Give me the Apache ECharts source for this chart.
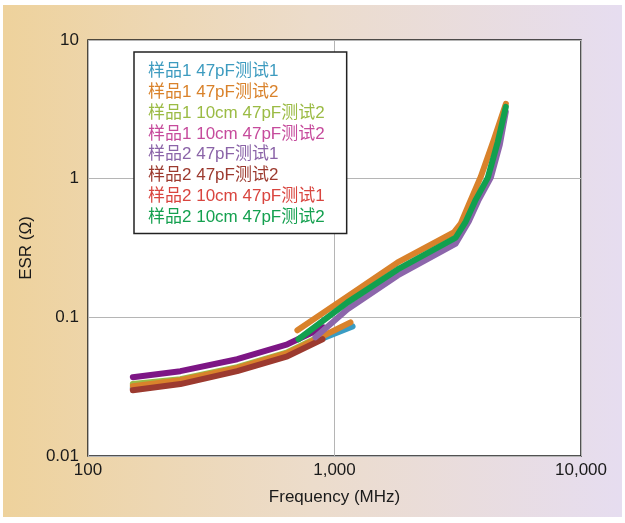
<!DOCTYPE html>
<html>
<head>
<meta charset="utf-8">
<script src="https://cdn.jsdelivr.net/npm/echarts@6/dist/echarts.min.js"></script>
<style>
html,body{margin:0;padding:0;background:#fff;}
#chart{width:625px;height:523px;}
</style>
</head>
<body>
<div id="chart"></div>
<script>
// ---- data (frequency in MHz, ESR in ohm) ----
const seriesNames = ['样品1 47pF测试1','样品1 47pF测试2','样品1 10cm 47pF测试2','样品1 10cm 47pF测试2 ','样品2 47pF测试1','样品2 47pF测试2','样品2 10cm 47pF测试1','样品2 10cm 47pF测试2'];
const legendLabels = ['样品1 47pF测试1','样品1 47pF测试2','样品1 10cm 47pF测试2','样品1 10cm 47pF测试2','样品2 47pF测试1','样品2 47pF测试2','样品2 10cm 47pF测试1','样品2 10cm 47pF测试2'];

const s1Freq = [152, 237, 403, 644, 877, 1184];
const s1Esr  = [0.0309, 0.0341, 0.0416, 0.0533, 0.0695, 0.0861];

const s2LowFreq = [152, 237, 403, 644, 877, 1161];
const s2LowEsr  = [0.0319, 0.0352, 0.0430, 0.0551, 0.0718, 0.0920];
const s2HighFreq = [707, 1129, 1804, 3045, 3252, 3505, 3922, 4430, 4956];
const s2HighEsr  = [0.0806, 0.1416, 0.2487, 0.409, 0.4746, 0.650, 1.034, 1.908, 3.464];

const s3Freq = [152, 237, 403, 644, 877];
const s3Esr  = [0.0330, 0.0358, 0.0437, 0.0560, 0.0730];

const s4Freq = [152, 237, 403, 644, 902];
const s4Esr  = [0.0370, 0.0409, 0.0499, 0.0639, 0.0848];

const s5Freq = [837, 1129, 1804, 3104, 3505, 3850, 4306, 4684, 4956];
const s5Esr  = [0.0718, 0.1142, 0.2006, 0.3407, 0.4905, 0.7063, 1.017, 1.757, 3.034];

const s6Freq = [152, 237, 403, 644, 894];
const s6Esr  = [0.0298, 0.0330, 0.0409, 0.0524, 0.0695];

const s7Freq = [152, 237, 403, 644, 877];
const s7Esr  = [0.0303, 0.0335, 0.0416, 0.0533, 0.0695];

const s8Freq = [714, 1129, 1804, 3104, 3408, 3743, 4188, 4598, 4956];
const s8Esr  = [0.0695, 0.1282, 0.2214, 0.3763, 0.4905, 0.7063, 1.017, 1.846, 3.296];

const xTicks = [100, 1000, 10000];
const yTicks = [0.01, 0.1, 1, 10];

const lineColors = ['#3a9cc3','#d9822b','#9abb45','#7d1685','#8c66ab','#9c3a2f','#d24a3e','#12a04f'];
const legendColors = ['#3d9bbf','#d9822b','#9bbb44','#c64b9c','#8b64a8','#9c3a2f','#d9453f','#14a04f'];

function pairs(f, e){ return f.map((v,i)=>[v, e[i]]); }

function mkSeries(idx, f, e, z){
  return {
    name: seriesNames[idx], type:'line', data: pairs(f,e),
    showSymbol:false, smooth:false, z: z,
    lineStyle:{ width:6, color: lineColors[idx], cap:'round', join:'round' },
    itemStyle:{ color: legendColors[idx] },
    emphasis:{ disabled:true }, animation:false
  };
}

const chart = echarts.init(document.getElementById('chart'), null, {renderer:'canvas'});
const FONT = '"Liberation Sans", Arial, "Noto Sans CJK SC", sans-serif';

const option = {
  backgroundColor:'#ffffff',
  animation:false,
  graphic:[{
    type:'rect', z:-100, silent:true,
    shape:{x:3, y:5, width:619, height:512},
    style:{ fill: new echarts.graphic.LinearGradient(0,0,1,0,[
      {offset:0, color:'#eed29c'},
      {offset:0.5, color:'#ecdccb'},
      {offset:1, color:'#e6ddf0'}
    ])}
  }],
  grid:{ left:88, top:40, right:44, bottom:67, show:true, backgroundColor:'#ffffff', borderColor:'#1a1a1a', borderWidth:1.5, z:0 },
  legend:{
    orient:'vertical', left:134, top:52,
    data: seriesNames.map((n,i)=>({ name:n, textStyle:{ color: legendColors[i] } })),
    formatter: function(n){ return legendLabels[seriesNames.indexOf(n)]; },
    icon:'rect', itemWidth:0, itemHeight:14, itemGap:3.8,
    padding:[11, 22, 8, 9],
    backgroundColor:'#ffffff', borderColor:'#222', borderWidth:1.5,
    selectedMode:false,
    textStyle:{ fontSize:17, fontFamily: FONT, lineHeight:17 },
    z:10
  },
  xAxis:{
    type:'log', logBase:10, min:100, max:10000,
    name:'Frequency (MHz)', nameLocation:'middle', nameGap:33,
    nameTextStyle:{ fontSize:17, color:'#1a1a1a', fontFamily: FONT },
    axisLine:{ show:false }, axisTick:{ show:false },
    axisLabel:{ fontSize:17, color:'#1a1a1a', fontFamily: FONT, margin:6, showMinLabel:true, showMaxLabel:true,
      formatter: v => { const r = xTicks.find(t=>Math.abs(t-v)/t<1e-6); return r ? r.toLocaleString('en-US') : ''; } },
    splitLine:{ show:true, lineStyle:{ color:'#b5b5b5', width:1 } },
    minorTick:{show:false}
  },
  yAxis:{
    type:'log', logBase:10, min:0.01, max:10,
    name:'ESR (Ω)', nameLocation:'middle', nameGap:52, nameRotate:90,
    nameTextStyle:{ fontSize:17, color:'#1a1a1a', fontFamily: FONT },
    axisLine:{ show:false }, axisTick:{ show:false },
    axisLabel:{ fontSize:17, color:'#1a1a1a', fontFamily: FONT, margin:9, showMinLabel:true, showMaxLabel:true,
      formatter: v => { const r = yTicks.find(t=>Math.abs(t-v)/t<1e-6); return r !== undefined ? String(r) : ''; } },
    splitLine:{ show:true, lineStyle:{ color:'#b5b5b5', width:1 } }
  },
  series:[
    mkSeries(6, s7Freq, s7Esr, 2),
    mkSeries(2, s3Freq, s3Esr, 3),
    mkSeries(0, s1Freq, s1Esr, 4),
    mkSeries(1, s2LowFreq, s2LowEsr, 5),
    mkSeries(5, s6Freq, s6Esr, 6),
    mkSeries(3, s4Freq, s4Esr, 7),
    mkSeries(4, s5Freq, s5Esr, 8),
    mkSeries(1, s2HighFreq, s2HighEsr, 9),
    mkSeries(7, s8Freq, s8Esr, 10)
  ]
};
chart.setOption(option);
</script>
</body>
</html>
